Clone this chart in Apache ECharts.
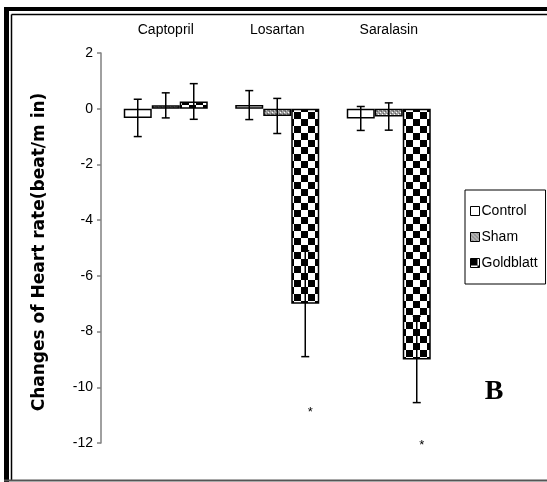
<!DOCTYPE html>
<html>
<head>
<meta charset="utf-8">
<script src="https://cdn.jsdelivr.net/npm/echarts@6/dist/echarts.min.js"></script>
<style>html,body{margin:0;padding:0;background:#fff;}#c{width:547px;height:482px;}</style>
</head>
<body>
<div id="c"></div>
<script>
// ---- data ----
const categories = ['Captopril', 'Losartan', 'Saralasin'];
const seriesNames = ['Control', 'Sham', 'Goldblatt'];
const controlMean = [-0.33, 0.13, -0.35];
const controlErr  = [0.67, 0.52, 0.43];
const shamMean    = [0.12, -0.26, -0.28];
const shamErr     = [0.45, 0.63, 0.49];
const goldMean    = [0.26, -7.0, -9.0];
const goldErr     = [0.64, 1.9, 1.55];
const goldStarY   = [null, -10.9, -12.1];
const yTicks = { min: -12, max: 2, interval: 2 };
const yTitle = 'Changes of Heart rate(beat/m in)';
const panelLabel = 'B';

// ---- patterns ----
function makePattern(size, draw) {
  const c = document.createElement('canvas');
  c.width = size; c.height = size;
  const g = c.getContext('2d');
  draw(g);
  return { image: c, repeat: 'repeat' };
}
const checker = makePattern(14, g => {
  g.fillStyle = '#fff'; g.fillRect(0, 0, 14, 14);
  g.fillStyle = '#000'; g.fillRect(0, 0, 7, 7); g.fillRect(7, 7, 7, 7);
});
const dotted = makePattern(4, g => {
  g.fillStyle = '#a0a0a0'; g.fillRect(0, 0, 4, 4);
  g.fillStyle = '#ffffff'; g.fillRect(0, 0, 1, 1); g.fillRect(2, 2, 1, 1);
  g.fillStyle = '#606060'; g.fillRect(1, 3, 1, 1); g.fillRect(3, 1, 1, 1);
});

const narrow = "'Liberation Sans Narrow', 'Arial Narrow', 'Liberation Sans', sans-serif";
const BAR_W = 28;

const means = [controlMean, shamMean, goldMean];
const errs = [controlErr, shamErr, goldErr];
const fills = ['#ffffff', dotted, checker];

const barSeries = seriesNames.map((name, k) => ({
  name: name,
  type: 'bar',
  data: means[k],
  barWidth: BAR_W,
  barGap: '0%',
  itemStyle: { color: fills[k], borderColor: '#000', borderWidth: 1.5 },
  emphasis: { disabled: true },
  z: 2
}));

const errSeries = seriesNames.map((name, k) => ({
  type: 'custom',
  name: name + ' err',
  data: means[k].map((m, i) => [i, m, errs[k][i]]),
  z: 5,
  silent: true,
  renderItem: function (params, api) {
    const i = api.value(0), m = api.value(1), e = api.value(2);
    const x = api.coord([i, 0])[0] + (k - 1) * BAR_W;
    const yt = api.coord([i, m + e])[1];
    const yb = api.coord([i, m - e])[1];
    const st = { stroke: '#000', lineWidth: 1.5 };
    return {
      type: 'group',
      children: [
        { type: 'line', shape: { x1: x, y1: yt, x2: x, y2: yb }, style: st },
        { type: 'line', shape: { x1: x - 4, y1: yt, x2: x + 4, y2: yt }, style: st },
        { type: 'line', shape: { x1: x - 4, y1: yb, x2: x + 4, y2: yb }, style: st }
      ]
    };
  }
}));

const starSeries = {
  type: 'custom',
  name: 'sig',
  data: goldStarY.map((v, i) => [i, v]).filter(d => d[1] !== null),
  z: 6,
  silent: true,
  clip: false,
  renderItem: function (params, api) {
    const p = api.coord([api.value(0), api.value(1)]);
    return {
      type: 'text',
      x: p[0] + BAR_W + 5, y: p[1],
      style: { text: '*', fill: '#000', font: '13px ' + narrow, align: 'center', verticalAlign: 'middle' }
    };
  }
};

const chart = echarts.init(document.getElementById('c'), null, { renderer: 'canvas' });
chart.setOption({
  animation: false,
  backgroundColor: '#fff',
  grid: { left: 110, right: 102.5, top: 53, bottom: 39 },
  xAxis: {
    type: 'category',
    data: categories,
    position: 'top',
    axisLine: { show: false },
    axisTick: { show: false },
    axisLabel: { color: '#000', fontSize: 14, fontFamily: narrow, margin: 16 },
    splitLine: { show: false }
  },
  yAxis: {
    type: 'value',
    min: yTicks.min, max: yTicks.max, interval: yTicks.interval,
    offset: 9,
    axisLine: { show: true, onZero: false, lineStyle: { color: '#808080', width: 1.5 } },
    axisTick: { show: true, length: 4, lineStyle: { color: '#808080', width: 1.5 } },
    axisLabel: { color: '#000', fontSize: 14, fontFamily: narrow, margin: 8 },
    splitLine: { show: false }
  },
  legend: {
    data: seriesNames,
    orient: 'vertical',
    left: 465, top: 190,
    itemWidth: 9, itemHeight: 9,
    itemGap: 12,
    padding: [14, 8, 14, 5],
    borderColor: '#000', borderWidth: 1,
    backgroundColor: '#fff',
    icon: 'rect',
    textStyle: { color: '#000', fontSize: 14, fontFamily: narrow, padding: [0, 0, 0, -3] },
    itemStyle: { borderColor: '#000', borderWidth: 1 },
    selectedMode: false
  },
  graphic: [
    { type: 'rect', shape: { x: 4, y: 7, width: 543, height: 4 }, style: { fill: '#000' }, silent: true },
    { type: 'rect', shape: { x: 4, y: 7, width: 5, height: 475 }, style: { fill: '#000' }, silent: true },
    { type: 'line', shape: { x1: 11.5, y1: 14.5, x2: 547, y2: 14.5 }, style: { stroke: '#000', lineWidth: 1.5 }, silent: true },
    { type: 'line', shape: { x1: 11.5, y1: 14.5, x2: 11.5, y2: 481 }, style: { stroke: '#000', lineWidth: 1.5 }, silent: true },
    { type: 'line', shape: { x1: 4, y1: 480.5, x2: 547, y2: 480.5 }, style: { stroke: '#555', lineWidth: 2 }, silent: true },
    {
      type: 'text', x: 40, y: 252, rotation: Math.PI / 2,
      style: { text: yTitle, fill: '#000', font: 'bold 17px "DejaVu Sans", sans-serif', align: 'center', verticalAlign: 'middle' },
      silent: true
    },
    {
      type: 'text', x: 494, y: 392,
      style: { text: panelLabel, fill: '#000', font: 'bold 28px "Liberation Serif", serif', align: 'center', verticalAlign: 'middle' },
      silent: true
    }
  ],
  series: barSeries.concat(errSeries, [starSeries])
});
</script>
</body>
</html>
